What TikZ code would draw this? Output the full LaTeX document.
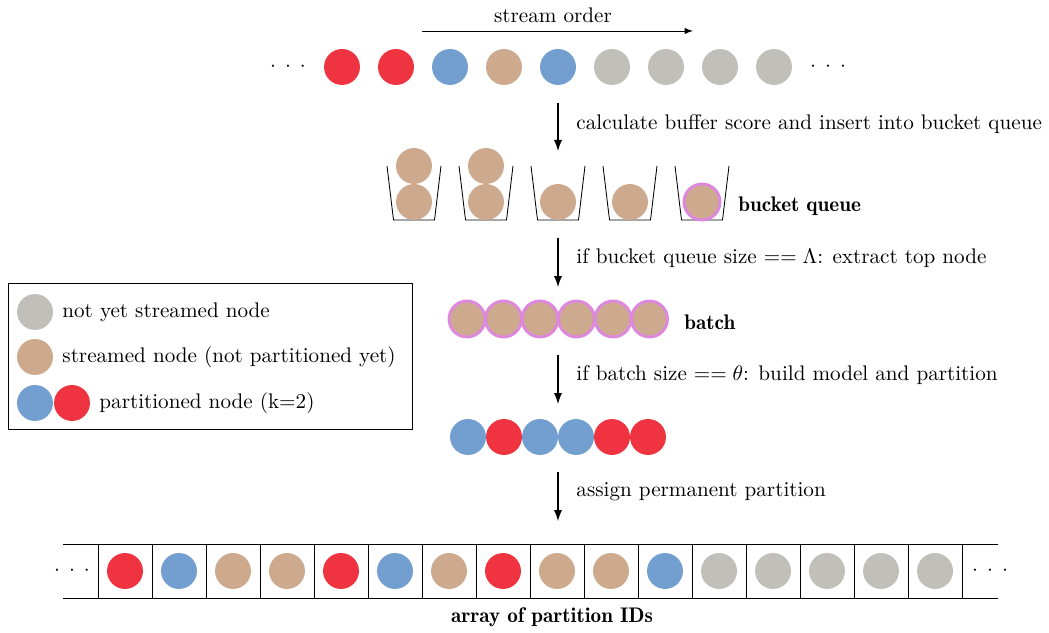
\documentclass[tikz,border=0pt]{standalone}
\usepackage{amsmath}
\usepackage{xcolor}

\definecolor{nodered}{HTML}{EF3340}
\definecolor{nodeblue}{HTML}{729FCF}
\definecolor{nodetan}{HTML}{CDAA8D}
\definecolor{nodegrey}{HTML}{C0BFBA}
\definecolor{nodepink}{HTML}{DD88DD}

\newcommand{\sdots}{${\cdot}\hspace{4.3pt}{\cdot}\hspace{4.3pt}{\cdot}$}
\newcommand{\demi}[1]{{\fontseries{b}\selectfont #1}}

\tikzset{
    vtx/.style={circle, minimum size=17pt, inner sep=0pt},
    batchvtx/.style={vtx, fill=nodetan, draw=nodepink, line width=1.4pt},
    lbl/.style={anchor=west, inner sep=0pt},
}

\begin{document}
\begin{tikzpicture}[x=0.473pt, y=-0.473pt, >=latex]

\useasboundingbox (0,0) rectangle (1049,633);

% stream order
\coordinate (so1) at (422,31);
\coordinate (so2) at (693,31);
\draw [->] (so1) -- (so2);
\node (sotxt) at (553,15) {stream order};

\node (sl) at (288,67) {\sdots};
\foreach \c [count=\i] in {nodered,nodered,nodeblue,nodetan,nodeblue,nodegrey,nodegrey,nodegrey,nodegrey} {
    \node [vtx, fill=\c] (s\i) at ({288+54*\i},67) {};
}
\node (sr) at (828,67) {\sdots};

% arrows between the steps
\coordinate (a1) at (558,103);
\coordinate (b1) at (558,151);
\coordinate (a2) at (558,238);
\coordinate (b2) at (558,287);
\coordinate (a3) at (558,355);
\coordinate (b3) at (558,404);
\coordinate (a4) at (558,472);
\coordinate (b4) at (558,521);
\draw [thick, ->] (a1) -- (b1);
\draw [thick, ->] (a2) -- (b2);
\draw [thick, ->] (a3) -- (b3);
\draw [thick, ->] (a4) -- (b4);

\node [lbl] (t1) at (576,124) {calculate buffer score and insert into bucket queue};
\node [lbl] (t2) at (576,258) {if bucket queue size $==\Lambda$: extract top node};
\node [lbl] (t3) at (576,375) {if batch size $==\theta$: build model and partition};
\node [lbl] (t4) at (576,492) {assign permanent partition};

% bucket queue
\foreach \i in {1,...,5} {
    \draw ({342+72*\i-27},166) -- ({342+72*\i-20.5},220) -- ({342+72*\i+20.5},220) -- ({342+72*\i+27},166);
}
\node [vtx, fill=nodetan] (q1a) at (414,202) {};
\node [vtx, fill=nodetan] (q1b) at (414,166) {};
\node [vtx, fill=nodetan] (q2a) at (486,202) {};
\node [vtx, fill=nodetan] (q2b) at (486,166) {};
\node [vtx, fill=nodetan] (q3a) at (558,202) {};
\node [vtx, fill=nodetan] (q4a) at (630,202) {};
\node [batchvtx] (q5a) at (702,202) {};
\node [lbl] (qtxt) at (738,206) {\demi{bucket queue}};

% batch
\foreach \i in {0,...,5} {
    \node [batchvtx] (b\i) at ({467+36.5*\i},319) {};
}
\node [lbl] (btxt) at (684,322) {\demi{batch}};

% partitioned batch
\foreach \c [count=\i] in {nodeblue,nodered,nodeblue,nodeblue,nodered,nodered} {
    \node [vtx, fill=\c] (p\i) at ({432+36*\i},437) {};
}

% legend
\draw (8,283) rectangle (412,429);
\node [vtx, fill=nodegrey] (lg1) at (35,312) {};
\node [vtx, fill=nodetan] (lg2) at (35,357) {};
\node [vtx, fill=nodeblue] (lg3) at (35,403) {};
\node [vtx, fill=nodered] (lg4) at (72,403) {};
\node [lbl] (lt1) at (62,312) {not yet streamed node};
\node [lbl] (lt2) at (62,357) {streamed node (not partitioned yet)};
\node [lbl] (lt3) at (99,403) {partitioned node (k=2)};

% array of partition IDs
\draw (63,544) -- (998,544);
\draw (63,598) -- (998,598);
\foreach \k in {0,...,16} {
    \draw ({98+54*\k},544) -- ({98+54*\k},598);
}
\node (al) at (72,571) {\sdots};
\foreach \c [count=\i] in {nodered,nodeblue,nodetan,nodetan,nodered,nodeblue,nodetan,nodered,nodetan,nodetan,nodeblue,nodegrey,nodegrey,nodegrey,nodegrey,nodegrey} {
    \node [vtx, fill=\c] (c\i) at ({71+54*\i},571) {};
}
\node (ar) at (990,571) {\sdots};
\node (atxt) at (552,617) {\demi{array of partition IDs}};

\end{tikzpicture}
\end{document}
